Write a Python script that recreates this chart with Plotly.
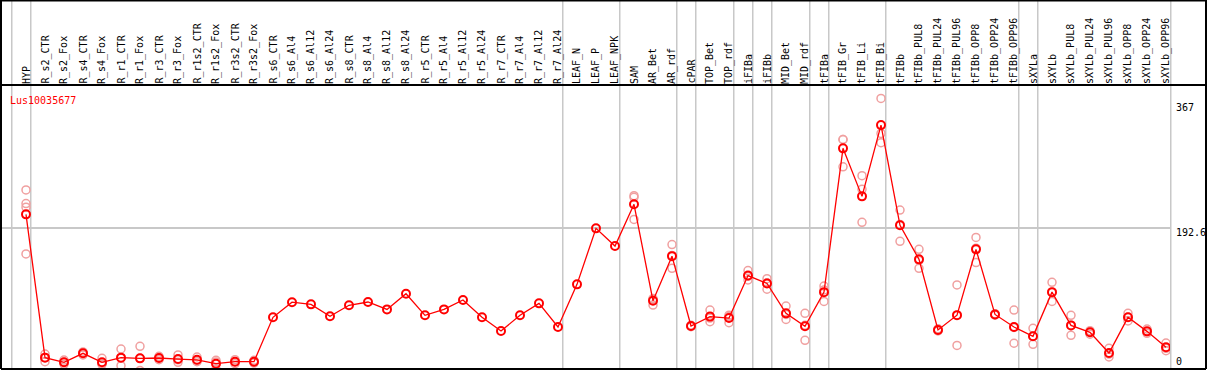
import plotly.graph_objects as go

GENE = "Lus10035677"

CATEGORIES = [
    "HYP", "R_s2_CTR", "R_s2_Fox", "R_s4_CTR", "R_s4_Fox", "R_r1_CTR", "R_r1_Fox",
    "R_r3_CTR", "R_r3_Fox", "R_r1s2_CTR", "R_r1s2_Fox", "R_r3s2_CTR", "R_r3s2_Fox",
    "R_s6_CTR", "R_s6_Al4", "R_s6_Al12", "R_s6_Al24", "R_s8_CTR", "R_s8_Al4",
    "R_s8_Al12", "R_s8_Al24", "R_r5_CTR", "R_r5_Al4", "R_r5_Al12", "R_r5_Al24",
    "R_r7_CTR", "R_r7_Al4", "R_r7_Al12", "R_r7_Al24", "LEAF_N", "LEAF_P", "LEAF_NPK",
    "SAM", "AR_Bet", "AR_rdf", "cPAR", "TOP_Bet", "TOP_rdf", "iFIBa", "iFIBb",
    "MID_Bet", "MID_rdf", "tFIBa", "tFIB_Gr", "tFIB_Li", "tFIB_Bi", "tFIBb",
    "tFIBb_PUL8", "tFIBb_PUL24", "tFIBb_PUL96", "tFIBb_OPP8", "tFIBb_OPP24",
    "tFIBb_OPP96", "sXYLa", "sXYLb", "sXYLb_PUL8", "sXYLb_PUL24", "sXYLb_PUL96",
    "sXYLb_OPP8", "sXYLb_OPP24", "sXYLb_OPP96",
]

MEANS = [
    212, 13, 6.5, 19, 6.5, 13, 12, 12.5, 11, 10, 4.6, 7.4, 7.4,
    69, 90, 87, 70.4, 85.7, 90.3, 80, 101.8, 71.8, 80, 93, 69,
    50, 71.8, 88.4, 55.6, 114.8, 192.6, 168,
    226, 92, 154, 57, 70, 68, 127, 116, 74.5, 56.5, 104,
    303.7, 237, 336, 196.8, 149.5, 51.4, 72, 163.4, 73, 55.6,
    42.6, 104, 57.8, 48.2, 19.4, 69, 49.5, 27.4,
]

REPLICATES = [
    [246, 227, 222, 157],      # HYP
    [18, 13.3, 7.4],           # R_s2_CTR
    [9.7, 6.5, 3.7],           # R_s2_Fox
    [21, 19, 16.7],            # R_s4_CTR
    [12, 4, 3.7],              # R_s4_Fox
    [25, 12.5, 1.9],           # R_r1_CTR
    [28.7, 12, -5],            # R_r1_Fox
    [14.8, 12.5, 10.2],        # R_r3_CTR
    [16.7, 10, 6.5],           # R_r3_Fox
    [13.9, 9, 7.4],            # R_r1s2_CTR
    [9.3, 7, -3],              # R_r1s2_Fox
    [10.2, 7.4, 4.6],          # R_r3s2_CTR
    [9.3, 7.4, 5.5],           # R_r3s2_Fox
    [], [], [], [], [], [], [], [], [], [], [], [], [], [], [], [],
    [], [], [],                # LEAF_N, LEAF_P, LEAF_NPK
    [238, 235.7, 205],         # SAM
    [95, 94, 86],              # AR_Bet
    [170, 155, 137],           # AR_rdf
    [58, 57, 56],              # cPAR
    [79, 68, 63],              # TOP_Bet
    [72, 70, 61.6],            # TOP_rdf
    [134, 126, 121],           # iFIBa
    [122.7, 117, 108],         # iFIBb
    [84.7, 73, 66],            # MID_Bet
    [74.5, 58, 37],            # MID_rdf
    [112.5, 107, 91],          # tFIBa
    [316, 316, 278],           # tFIB_Gr
    [265.7, 246.8, 201],       # tFIB_Li
    [373, 324.5, 311.5],       # tFIB_Bi
    [218, 198, 174.5],         # tFIBb
    [163.4, 148, 137],         # tFIBb_PUL8
    [53, 51, 50],              # tFIBb_PUL24
    [114, 72, 30],             # tFIBb_PUL96
    [180, 165, 145],           # tFIBb_OPP8
    [74, 73, 72],              # tFIBb_OPP24
    [79, 55, 33],              # tFIBb_OPP96
    [53.7, 42.6, 31.5],        # sXYLa
    [117.6, 104, 91],          # sXYLb
    [71.8, 58, 44],            # sXYLb_PUL8
    [50.5, 48, 45.5],          # sXYLb_PUL24
    [26, 18, 14],              # sXYLb_PUL96
    [74.5, 69, 64],            # sXYLb_OPP8
    [52.8, 49, 46.8],          # sXYLb_OPP24
    [33.3, 26, 22.6],          # sXYLb_OPP96
]

Y_TICKS = [0, 192.6, 367]
Y_TICK_LABELS = ["0", "192.6", "367"]

# separators are drawn after these categories (plus one before the first)
GROUP_ENDS = ["HYP", "R_r7_Al24", "LEAF_NPK", "AR_rdf", "cPAR", "TOP_rdf", "iFIBa",
              "iFIBb", "MID_rdf", "tFIBa", "tFIB_Bi", "tFIBb_OPP96", "sXYLa", "sXYLb_OPP96"]

# ---- layout geometry ----
W, H = 1209, 370
ML, MR, MT, MB = 1, 39, 85, 1
PLOT_W = W - ML - MR
PLOT_H = H - MT - MB
STEP = 19.0
X0 = -(26 - ML) / STEP
X1 = X0 + PLOT_W / STEP
Y_RANGE = [-2.78, 391.7]

RED = "#ff0000"
PINK = "#f0a0a0"
GRID = "#c8c8c8"
FONT = "DejaVu Sans Mono"

idx = list(range(len(CATEGORIES)))
rep_x, rep_y = [], []
for i, reps in zip(idx, REPLICATES):
    for v in reps:
        rep_x.append(i)
        rep_y.append(v)

fig = go.Figure()
fig.add_trace(go.Scatter(
    x=rep_x, y=rep_y, mode="markers",
    marker=dict(symbol="circle-open", size=8, color=PINK, line=dict(width=1.5, color=PINK)),
    hoverinfo="skip", showlegend=False,
))
fig.add_trace(go.Scatter(
    x=idx, y=MEANS, mode="lines+markers",
    line=dict(color=RED, width=1.3),
    marker=dict(symbol="circle-open", size=8, color=RED, line=dict(width=2, color=RED)),
    showlegend=False,
))


def xpaper(v):
    return (v - X0) / (X1 - X0)


top_paper = (MT + PLOT_H) / PLOT_H  # top edge of figure in paper units
shapes = []
bounds = [-1 + 0.25] + [CATEGORIES.index(c) + 0.25 for c in GROUP_ENDS]
for b in bounds:
    xp = xpaper(b)
    shapes.append(dict(type="line", xref="paper", yref="paper", x0=xp, x1=xp,
                       y0=0, y1=top_paper, line=dict(color=GRID, width=1.5), layer="below"))
right_paper = (W - 3 - ML) / PLOT_W
for (x0, y0, x1, y1) in [
    (0, top_paper - 0.5 / PLOT_H, right_paper, top_paper - 0.5 / PLOT_H),
    (0, 1, right_paper, 1),
    (0, 0, right_paper, 0),
    (0, 0, 0, top_paper),
    (right_paper, 0, right_paper, top_paper),
]:
    shapes.append(dict(type="line", xref="paper", yref="paper", x0=x0, x1=x1, y0=y0, y1=y1,
                       line=dict(color="black", width=2), layer="above"))

annotations = [dict(
    text=GENE, xref="paper", yref="paper", x=(8 - ML) / PLOT_W, y=1 - 8 / PLOT_H,
    xanchor="left", yanchor="top", showarrow=False,
    font=dict(family=FONT, size=10, color=RED),
)]
# category labels, rotated, sitting on top of the plot area
for i, cat in zip(idx, CATEGORIES):
    annotations.append(dict(
        text=cat, xref="x", yref="paper", x=i, y=1, yshift=0,
        xanchor="center", yanchor="bottom", textangle=-90, showarrow=False,
        borderpad=0, font=dict(family=FONT, size=10, color="black"),
    ))
for v, lab in zip(Y_TICKS, Y_TICK_LABELS):
    is_min = v == min(Y_TICKS)
    annotations.append(dict(
        text=lab, xref="paper", yref="y", x=1, y=v, xshift=4,
        yshift=-2 if is_min else 3,
        xanchor="left", yanchor="bottom" if is_min else "top",
        showarrow=False, font=dict(family=FONT, size=10, color="black"),
    ))

fig.update_layout(
    width=W, height=H, autosize=False,
    margin=dict(l=ML, r=MR, t=MT, b=MB, pad=0),
    paper_bgcolor="white", plot_bgcolor="white",
    font=dict(family=FONT, size=10, color="black"),
    shapes=shapes, annotations=annotations,
    xaxis=dict(
        side="top", range=[X0, X1], automargin=False, showticklabels=False,
        ticks="", showgrid=False, zeroline=False, showline=False,
    ),
    yaxis=dict(
        range=Y_RANGE, tickmode="array", tickvals=[Y_TICKS[1]], automargin=False,
        showticklabels=False, ticks="", showgrid=True, gridcolor=GRID, gridwidth=1.5,
        zeroline=False, showline=False,
    ),
)

fig.write_html(
    "out.html",
    config={"displayModeBar": False},
    post_script="document.body.style.margin='0';document.body.style.padding='0';"
                "document.documentElement.style.overflow='hidden';",
)
